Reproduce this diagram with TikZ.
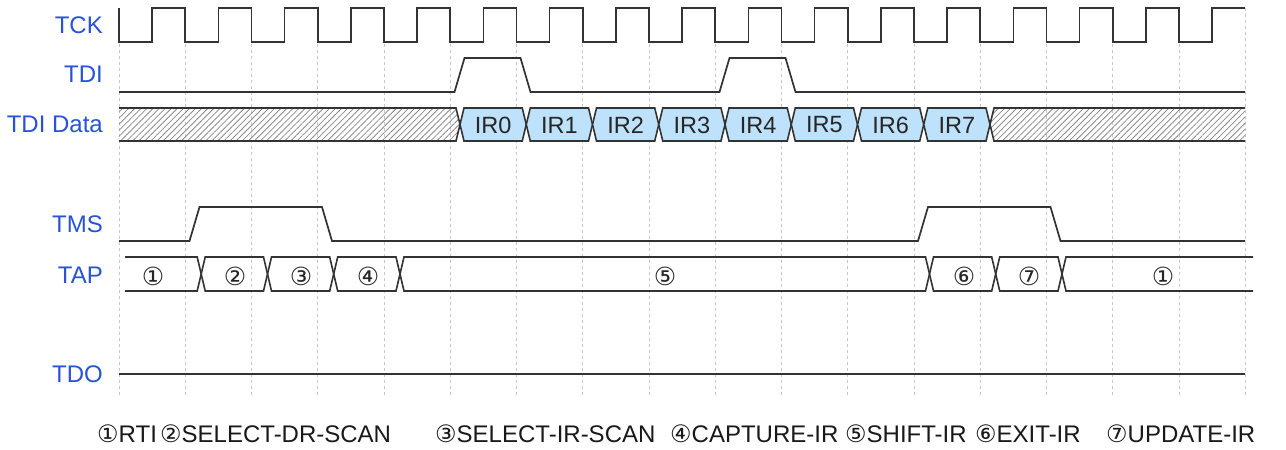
\documentclass[tikz,border=0pt]{standalone}
\usepackage{fontspec}
\setmainfont{Liberation Sans}
\newfontfamily\dvfont{DejaVu Sans}
\usetikzlibrary{patterns.meta}
\definecolor{lblblue}{RGB}{40,82,215}
\definecolor{sigcol}{RGB}{51,51,51}
\definecolor{irfill}{RGB}{190,226,252}
\definecolor{gridcol}{RGB}{200,200,200}
\definecolor{hatchcol}{RGB}{140,140,140}
\begin{document}
\begin{tikzpicture}[x={(1pt,0)},y={(0,-1pt)},
  sig/.style={draw=sigcol,line width=1.7pt,line join=miter},
  bus/.style={draw=sigcol,line width=1.6pt,line join=miter},
  hatch/.style={bus,pattern={Lines[angle=45,distance=4.3pt,line width=0.8pt]},pattern color=hatchcol},
  irbox/.style={bus,fill=irfill},
  gridline/.style={draw=gridcol,line width=0.8pt,dash pattern=on 3pt off 3pt},
  lbl/.style={anchor=east,inner sep=0pt,text=lblblue,font=\fontsize{24}{26}\selectfont},
  celltxt/.style={inner sep=0pt,text=black!85,font=\fontsize{23.5}{25}\selectfont},
  tapnum/.style={inner sep=0pt,text=black!85,font=\dvfont\fontsize{25}{27}\selectfont},
  legend/.style={anchor=base west,inner sep=0pt,text=black!90,font=\fontsize{24}{26}\selectfont}]
\fill[white] (0,0) rectangle (1286,450);
\useasboundingbox (0,0) rectangle (1286,450);
% grid
\foreach \k in {0,...,17}
  \draw[gridline] ({119+66.25*\k},8) -- ({119+66.25*\k},396);
% labels
\node[lbl] (lTCK) at (103,25) {TCK};
\node[lbl] (lTDI) at (103,74) {TDI};
\node[lbl] (lTDID) at (103,124.5) {TDI Data};
\node[lbl] (lTMS) at (103,224) {TMS};
\node[lbl] (lTAP) at (103,275) {TAP};
\node[lbl] (lTDO) at (103,374) {TDO};
% TCK
\draw[sig] (119,8) -- (119,42)
  \foreach \k in {0,...,15} {
    -- ({119+66.25*\k+33.125},42) -- ({119+66.25*\k+33.125},8)
    -- ({119+66.25*(\k+1)},8) -- ({119+66.25*(\k+1)},42) }
  -- (1212.1,42) -- (1212.1,8) -- (1245,8);
% TDI
\draw[sig] (119,92) -- (454.5,92) -- (464.5,58) -- (520.5,58) -- (530.5,92)
  -- (719.5,92) -- (729.5,58) -- (785.5,58) -- (795.5,92) -- (1245,92);
% TDI Data
\draw[hatch] (119,108) -- (456,108) -- (460,124.5) -- (456,141) -- (119,141);
\foreach \k/\t in {0/IR0,1/IR1,2/IR2,3/IR3,4/IR4,5/IR5,6/IR6,7/IR7} {
  \pgfmathsetmacro{\ca}{460+66.25*\k}
  \pgfmathsetmacro{\cb}{460+66.25*(\k+1)}
  \draw[irbox] (\ca,124.5) -- (\ca+4,108) -- (\cb-4,108) -- (\cb,124.5)
    -- (\cb-4,141) -- (\ca+4,141) -- cycle;
  \node[celltxt] (ir\k) at ({(\ca+\cb)/2},125) {\t};
}
\draw[hatch] (1245,108) -- (994,108) -- (990,124.5) -- (994,141) -- (1245,141);
% TMS
\draw[sig] (119,241) -- (189.5,241) -- (199.5,207) -- (322,207) -- (332,241)
  -- (918,241) -- (928,207) -- (1050.5,207) -- (1060.5,241) -- (1245,241);
% TAP
\draw[bus] (125,257) -- (197.2,257) -- (201.2,274) -- (197.2,291) -- (125,291);
\foreach \a/\b in {201.2/267.5,267.5/333.7,333.7/400,400/929.5,929.5/995.7,995.7/1062}
  \draw[bus] (\a,274) -- (\a+4,257) -- (\b-4,257) -- (\b,274) -- (\b-4,291) -- (\a+4,291) -- cycle;
\draw[bus] (1253,257) -- (1066,257) -- (1062,274) -- (1066,291) -- (1253,291);
\node[tapnum] (t1) at (153,276) {①};
\node[tapnum] (t2) at (235,276) {②};
\node[tapnum] (t3) at (301,276) {③};
\node[tapnum] (t4) at (368,276) {④};
\node[tapnum] (t5) at (665,276) {⑤};
\node[tapnum] (t6) at (964,276) {⑥};
\node[tapnum] (t7) at (1029,276) {⑦};
\node[tapnum] (t8) at (1163,276) {①};
% TDO
\draw[sig] (119,374) -- (1245,374);
% legend
\node[legend] (g1) at (97,442) {{\dvfont ①}RTI};
\node[legend] (g2) at (160,442) {{\dvfont ②}SELECT-DR-SCAN};
\node[legend] (g3) at (435,442) {{\dvfont ③}SELECT-IR-SCAN};
\node[legend] (g4) at (670,442) {{\dvfont ④}CAPTURE-IR};
\node[legend] (g5) at (845,442) {{\dvfont ⑤}SHIFT-IR};
\node[legend] (g6) at (975,442) {{\dvfont ⑥}EXIT-IR};
\node[legend] (g7) at (1106,442) {{\dvfont ⑦}UPDATE-IR};
\end{tikzpicture}
\end{document}
